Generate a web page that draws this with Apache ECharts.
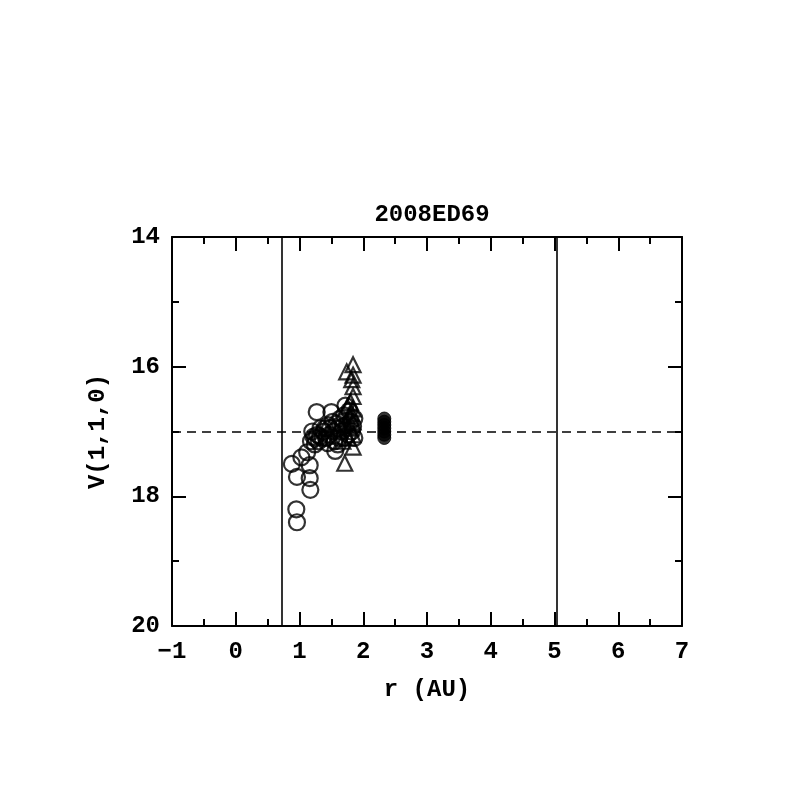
<!DOCTYPE html>
<html>
<head>
<meta charset="utf-8">
<script src="https://cdn.jsdelivr.net/npm/echarts@6/dist/echarts.min.js"></script>
<style>html,body{margin:0;padding:0;background:#fff;}#c{width:797px;height:797px;}</style>
</head>
<body>
<div id="c"></div>
<script>
const titleText = '2008ED69';
const xName = 'r (AU)';
const yName = 'V(1,1,0)';
const verticalLines = [0.72, 5.04];
const dashedLevel = 17.0;

const circlesX = [0.88,0.96,0.95,0.96,1.03,1.16,1.16,1.17,1.12,1.18,1.20,1.24,1.27,1.28,1.30,1.33,1.36,1.38,1.42,1.45,1.47,1.50,1.52,1.53,1.55,1.56,1.60,1.62,1.64,1.66,1.70,1.70,1.72,1.74,1.76,1.78,1.80,1.82,1.84,1.86,1.86,1.60,1.40,1.25,1.32,1.44,1.58,1.68,1.22,1.48];
const circlesY = [17.50,17.70,18.20,18.40,17.40,17.52,17.72,17.90,17.32,17.15,17.00,17.20,16.70,17.05,17.15,16.95,17.10,17.00,17.10,16.90,17.05,16.70,16.85,17.00,17.15,17.30,16.95,17.10,16.80,17.00,16.75,17.10,16.60,16.90,17.05,16.68,16.85,17.00,16.92,16.80,17.10,17.20,16.95,17.10,17.08,17.18,16.88,16.92,17.08,16.95];

const trianglesX = [1.84,1.74,1.84,1.82,1.84,1.84,1.80,1.75,1.84,1.78,1.84,1.72,1.80,1.84,1.76,1.84,1.71,1.68,1.82];
const trianglesY = [15.97,16.08,16.13,16.20,16.31,16.46,16.55,16.62,16.65,16.75,16.85,16.90,16.95,17.05,17.10,17.24,17.49,17.15,16.72];

const filledX = [2.33,2.33,2.33,2.33,2.33,2.33,2.33];
const filledY = [16.80,16.85,16.90,16.95,17.00,17.05,17.10];

const xTicks = {min:-1, max:7, interval:1};
const yTicks = {min:14, max:20, interval:2};

const FONT = 'Liberation Mono';
const zip = (a,b) => a.map((v,i)=>[v,b[i]]);

const axisBase = {
  axisLine:{show:true, onZero:false, lineStyle:{color:'#000', width:2}},
  axisTick:{show:true, inside:true, length:14, lineStyle:{color:'#000', width:2}},
  minorTick:{show:true, splitNumber:2, length:7, lineStyle:{color:'#000', width:2}},
  splitLine:{show:false},
  minorSplitLine:{show:false}
};

const chart = echarts.init(document.getElementById('c'), null, {renderer:'canvas'});
chart.setOption({
  backgroundColor:'#fff',
  animation:false,
  title:{text:titleText, left:427, top:198, textAlign:'center',
    textStyle:{fontFamily:FONT, fontSize:24, fontWeight:'bold', color:'#000'}},
  grid:{left:172, right:115, top:237, bottom:171},
  xAxis:[
    Object.assign({type:'value', position:'bottom', min:xTicks.min, max:xTicks.max, interval:xTicks.interval,
      name:xName, nameLocation:'middle', nameGap:52,
      nameTextStyle:{fontFamily:FONT, fontSize:24, fontWeight:'bold', color:'#000'},
      axisLabel:{show:true, margin:14, fontFamily:FONT, fontSize:24, fontWeight:'bold', color:'#000',
        formatter:v=>String(v).replace('-','\u2212')}}, axisBase),
    Object.assign({type:'value', position:'top', min:xTicks.min, max:xTicks.max, interval:xTicks.interval,
      axisLabel:{show:false}}, axisBase)
  ],
  yAxis:[
    Object.assign({type:'value', position:'left', inverse:true, min:yTicks.min, max:yTicks.max, interval:yTicks.interval,
      name:yName, nameLocation:'middle', nameGap:62, nameRotate:90,
      nameTextStyle:{fontFamily:FONT, fontSize:24, fontWeight:'bold', color:'#000'},
      axisLabel:{show:true, margin:12, fontFamily:FONT, fontSize:24, fontWeight:'bold', color:'#000'}}, axisBase),
    Object.assign({type:'value', position:'right', inverse:true, min:yTicks.min, max:yTicks.max, interval:yTicks.interval,
      axisLabel:{show:false}}, axisBase)
  ],
  series:[
    {type:'scatter', xAxisIndex:0, yAxisIndex:0, symbol:'circle', symbolSize:16,
      itemStyle:{color:'rgba(0,0,0,0)', borderColor:'#000', borderWidth:2.2},
      data:zip(circlesX, circlesY),
      markLine:{silent:true, symbol:['none','none'], label:{show:false},
        data:[
          ...verticalLines.map(v=>({xAxis:v, lineStyle:{color:'#000', width:1.6, type:'solid'}})),
          {yAxis:dashedLevel, lineStyle:{color:'#000', width:1.6, type:[9,6]}}
        ]}
    },
    {type:'scatter', xAxisIndex:0, yAxisIndex:0, symbol:'triangle', symbolSize:15,
      itemStyle:{color:'rgba(0,0,0,0)', borderColor:'#000', borderWidth:2.2},
      data:zip(trianglesX, trianglesY)},
    {type:'scatter', xAxisIndex:0, yAxisIndex:0, symbol:'circle', symbolSize:13,
      itemStyle:{color:'#000', borderColor:'#000', borderWidth:1},
      data:zip(filledX, filledY)}
  ]
});
</script>
</body>
</html>
